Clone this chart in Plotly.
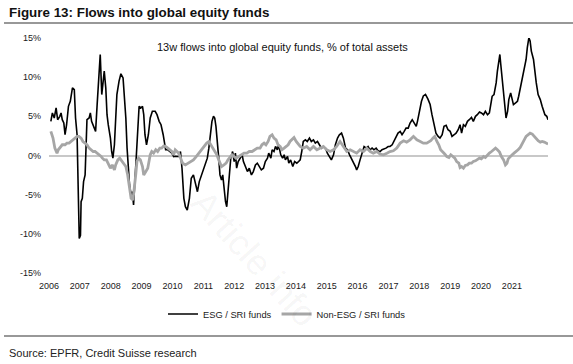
import plotly.graph_objects as go

# ---- data ----
esg_years = [2006.06, 2006.11, 2006.17, 2006.23, 2006.28, 2006.35, 2006.39, 2006.43, 2006.48, 2006.52,
             2006.57, 2006.63, 2006.69, 2006.76, 2006.82, 2006.86, 2006.91, 2006.95, 2006.98, 2007.02,
             2007.04, 2007.08, 2007.12, 2007.17, 2007.21, 2007.23, 2007.30, 2007.34, 2007.38, 2007.43,
             2007.47, 2007.51, 2007.56, 2007.60, 2007.64, 2007.66, 2007.71, 2007.75, 2007.79, 2007.84,
             2007.88, 2007.92, 2007.99, 2008.03, 2008.07, 2008.12, 2008.16, 2008.20, 2008.27, 2008.33,
             2008.40, 2008.44, 2008.49, 2008.53, 2008.57, 2008.61, 2008.66, 2008.70, 2008.74, 2008.79,
             2008.83, 2008.87, 2008.92, 2008.98, 2009.03, 2009.07, 2009.11, 2009.16, 2009.22, 2009.28,
             2009.35, 2009.44, 2009.50, 2009.57, 2009.63, 2009.70, 2009.74, 2009.78, 2009.85, 2009.91,
             2009.98, 2010.04, 2010.09, 2010.20, 2010.26, 2010.31, 2010.37, 2010.42, 2010.48, 2010.55,
             2010.61, 2010.68, 2010.74, 2010.81, 2010.87, 2010.94, 2011.00, 2011.07, 2011.13, 2011.18,
             2011.24, 2011.28, 2011.33, 2011.37, 2011.41, 2011.46, 2011.50, 2011.54, 2011.59, 2011.63,
             2011.67, 2011.72, 2011.76, 2011.80, 2011.85, 2011.89, 2011.95, 2012.00, 2012.04, 2012.08,
             2012.13, 2012.19, 2012.26, 2012.30, 2012.36, 2012.43, 2012.49, 2012.56, 2012.62, 2012.69,
             2012.75, 2012.82, 2012.88, 2012.95, 2013.01, 2013.08, 2013.12, 2013.19, 2013.23, 2013.29,
             2013.34, 2013.40, 2013.44, 2013.51, 2013.57, 2013.62, 2013.66, 2013.73, 2013.77, 2013.83,
             2013.90, 2013.96, 2014.03, 2014.09, 2014.14, 2014.19, 2014.24, 2014.31, 2014.37, 2014.44,
             2014.50, 2014.57, 2014.63, 2014.70, 2014.76, 2014.83, 2014.89, 2014.96, 2015.02, 2015.09,
             2015.15, 2015.22, 2015.28, 2015.35, 2015.41, 2015.48, 2015.54, 2015.61, 2015.67, 2015.74,
             2015.80, 2015.86, 2015.93, 2015.97, 2016.02, 2016.08, 2016.15, 2016.21, 2016.28, 2016.34,
             2016.40, 2016.47, 2016.53, 2016.60, 2016.66, 2016.73, 2016.79, 2016.86, 2016.92, 2016.99,
             2017.05, 2017.12, 2017.18, 2017.25, 2017.31, 2017.38, 2017.44, 2017.51, 2017.57, 2017.64,
             2017.70, 2017.77, 2017.83, 2017.90, 2017.94, 2017.98, 2018.03, 2018.07, 2018.13, 2018.20,
             2018.28, 2018.35, 2018.41, 2018.48, 2018.54, 2018.61, 2018.67, 2018.74, 2018.80, 2018.87,
             2018.93, 2019.00, 2019.06, 2019.13, 2019.19, 2019.26, 2019.32, 2019.37, 2019.43, 2019.49,
             2019.56, 2019.62, 2019.69, 2019.75, 2019.82, 2019.88, 2019.95, 2020.01, 2020.08, 2020.14,
             2020.21, 2020.27, 2020.32, 2020.36, 2020.42, 2020.49, 2020.53, 2020.58, 2020.61, 2020.64,
             2020.68, 2020.73, 2020.77, 2020.81, 2020.86, 2020.90, 2020.96, 2021.01, 2021.05, 2021.12,
             2021.18, 2021.22, 2021.29, 2021.35, 2021.42, 2021.46, 2021.50, 2021.55, 2021.59, 2021.63,
             2021.70, 2021.74, 2021.79, 2021.85, 2021.92, 2021.98, 2022.02, 2022.07, 2022.13, 2022.17]
esg_values = [4.36, 5.43, 4.79, 6.07, 4.57, 5.00, 5.43, 4.57, 4.15, 2.65,
              3.93, 6.28, 6.92, 8.63, 8.42, 4.79, 2.65, -3.76, -10.6, -10.2,
              -5.90, -5.47, -3.33, -2.48, 2.65, 4.57, 4.79, 5.43, 4.36, 3.93,
              3.50, 3.08, 6.50, 9.06, 11.2, 12.9, 7.78, 9.91, 10.77, 8.63,
              5.21, 3.93, 2.22, 0.51, -0.34, 1.37, 5.21, 7.78, 9.49, 10.43,
              9.91, 7.78, 4.79, 0.94, -1.62, -3.76, -5.04, -4.62, -6.32, -2.91,
              0.09, 3.50, 6.28, 6.07, 6.28, 5.21, 2.65, 1.37, 2.65, 4.79,
              5.64, 5.64, 5.21, 4.36, 3.93, 2.65, 1.37, 0.73, 0.73, 0.51,
              0.30, -0.13, -0.09, -0.13, 0.51, -1.62, -5.47, -6.54, -6.97, -5.47,
              -2.91, -2.48, -3.33, -4.62, -3.33, -2.48, -2.05, -1.20, -0.34, 0.94,
              2.65, 4.36, 5.00, 4.79, 3.72, 1.79, -0.34, -2.48, -3.12, -2.48,
              -4.19, -5.90, -6.54, -4.62, -1.62, -0.34, 0.51, -0.77, 0.30, -1.62,
              -0.77, -0.34, 0.09, -0.77, -1.41, -2.05, -1.62, -2.48, -2.05, -1.20,
              -0.98, -1.41, -1.84, -1.62, -0.77, -0.34, 0.30, -0.34, 0.73, 0.51,
              1.15, 0.73, 1.37, 0.09, -0.34, 0.09, -0.56, -0.13, -0.98, -0.56,
              -1.41, -0.77, -0.98, -0.77, -0.56, 0.51, 1.79, 2.00, 1.79, 2.22,
              1.79, 2.00, 1.58, 1.79, 1.37, 0.94, 1.15, 0.94, 0.30, -0.13,
              -0.56, 0.09, 1.37, 2.22, 2.65, 2.86, 2.22, 0.94, 0.73, 0.09,
              -0.34, -0.77, -1.41, -1.84, -1.41, -0.56, 0.30, 1.15, 0.94, 1.15,
              0.73, 0.94, 0.73, 0.94, 0.60, 0.51, 0.73, 0.81, 0.94, 1.15,
              1.15, 1.37, 1.79, 2.44, 2.86, 3.08, 2.65, 3.08, 3.50, 3.50,
              4.15, 4.57, 4.15, 3.72, 4.36, 5.21, 6.07, 6.92, 7.60, 7.80,
              7.20, 6.50, 5.21, 3.93, 2.86, 2.44, 2.22, 2.65, 3.72, 3.85,
              3.29, 3.08, 2.44, 2.65, 2.86, 3.29, 3.93, 2.86, 3.93, 3.72,
              4.36, 4.57, 4.87, 4.36, 5.00, 5.21, 5.56, 5.43, 5.21, 5.64,
              5.21, 5.43, 6.50, 7.56, 7.78, 9.27, 10.77, 12.05, 12.9, 11.62,
              9.91, 7.99, 6.07, 4.79, 5.64, 7.14, 7.99, 7.14, 6.50, 6.71,
              6.92, 7.56, 8.85, 10.34, 11.62, 12.26, 13.76, 15.04, 14.62, 13.33,
              12.26, 10.77, 9.27, 7.78, 7.14, 6.28, 5.85, 5.21, 5.00, 4.57]

non_esg_years = [2006.06, 2006.13, 2006.19, 2006.26, 2006.30, 2006.37, 2006.43, 2006.52, 2006.58, 2006.65,
                 2006.71, 2006.78, 2006.84, 2006.91, 2006.97, 2007.04, 2007.10, 2007.17, 2007.23, 2007.30,
                 2007.36, 2007.43, 2007.49, 2007.56, 2007.62, 2007.69, 2007.73, 2007.79, 2007.86, 2007.92,
                 2007.99, 2008.05, 2008.12, 2008.16, 2008.23, 2008.29, 2008.36, 2008.42, 2008.49, 2008.55,
                 2008.61, 2008.66, 2008.72, 2008.77, 2008.81, 2008.85, 2008.90, 2008.96, 2009.03, 2009.07,
                 2009.13, 2009.20, 2009.24, 2009.28, 2009.33, 2009.39, 2009.46, 2009.52, 2009.59, 2009.65,
                 2009.72, 2009.78, 2009.85, 2009.91, 2009.98, 2010.04, 2010.09, 2010.20, 2010.27, 2010.33,
                 2010.42, 2010.51, 2010.59, 2010.68, 2010.77, 2010.85, 2010.94, 2011.02, 2011.11, 2011.18,
                 2011.24, 2011.31, 2011.37, 2011.44, 2011.50, 2011.59, 2011.67, 2011.74, 2011.80, 2011.87,
                 2011.93, 2012.00, 2012.06, 2012.15, 2012.23, 2012.32, 2012.41, 2012.49, 2012.58, 2012.67,
                 2012.75, 2012.84, 2012.90, 2012.97, 2013.03, 2013.10, 2013.16, 2013.23, 2013.29, 2013.36,
                 2013.42, 2013.49, 2013.55, 2013.62, 2013.68, 2013.75, 2013.81, 2013.88, 2013.94, 2014.01,
                 2014.09, 2014.14, 2014.24, 2014.35, 2014.46, 2014.57, 2014.68, 2014.78, 2014.89, 2015.00,
                 2015.11, 2015.22, 2015.32, 2015.43, 2015.50, 2015.58, 2015.65, 2015.76, 2015.86, 2015.97,
                 2016.08, 2016.19, 2016.30, 2016.41, 2016.51, 2016.62, 2016.73, 2016.84, 2016.95, 2017.05,
                 2017.16, 2017.27, 2017.38, 2017.49, 2017.59, 2017.70, 2017.81, 2017.92, 2018.03, 2018.13,
                 2018.24, 2018.37, 2018.44, 2018.50, 2018.57, 2018.63, 2018.69, 2018.76, 2018.83, 2018.89,
                 2018.96, 2019.02, 2019.08, 2019.15, 2019.21, 2019.28, 2019.32, 2019.37, 2019.43, 2019.49,
                 2019.56, 2019.62, 2019.69, 2019.75, 2019.82, 2019.88, 2019.95, 2020.01, 2020.08, 2020.14,
                 2020.21, 2020.27, 2020.34, 2020.40, 2020.47, 2020.53, 2020.60, 2020.66, 2020.73, 2020.79,
                 2020.84, 2020.88, 2020.94, 2021.01, 2021.07, 2021.14, 2021.20, 2021.27, 2021.33, 2021.40,
                 2021.46, 2021.53, 2021.59, 2021.66, 2021.72, 2021.79, 2021.85, 2021.92, 2021.98, 2022.05,
                 2022.11, 2022.17]
non_esg_values = [3.08, 2.22, 0.94, 0.30, 0.73, 1.15, 1.37, 1.37, 1.58, 1.58,
                  1.79, 2.00, 2.22, 2.44, 2.44, 2.22, 1.79, 1.58, 1.37, 0.94,
                  0.73, 0.51, 0.51, 0.30, 0.09, -0.13, -0.34, -0.56, -0.56, -0.98,
                  -1.62, -1.20, -1.84, -1.20, -0.56, -0.34, -0.77, -0.98, -1.41, -2.48,
                  -4.19, -5.47, -5.68, -4.19, -2.48, -0.77, -0.34, -0.56, -1.41, -2.48,
                  -2.05, -1.62, -0.77, 0.09, 0.51, 0.30, 0.73, 0.51, 0.94, 0.94,
                  1.24, 1.15, 0.94, 0.73, 0.51, 0.09, 0.73, 0.30, -0.34, -0.98,
                  -1.20, -0.98, -0.77, -0.56, -0.13, 0.30, 0.73, 1.15, 1.58, 1.79,
                  1.37, 0.94, 0.51, 0.09, -0.56, -1.41, -1.20, -0.98, -0.56, -0.13,
                  0.09, -0.13, -0.34, -0.13, 0.09, 0.30, 0.30, 0.51, 0.51, 0.73,
                  0.94, 0.94, 1.37, 1.58, 1.37, 1.79, 2.44, 2.65, 2.22, 2.00,
                  1.37, 1.15, 0.73, 0.94, 1.15, 1.37, 1.79, 2.00, 2.30, 1.80,
                  1.37, 1.15, 0.94, 1.15, 0.73, 1.15, 0.73, 0.94, 1.15, 0.73,
                  0.51, 0.73, 1.15, 1.79, 1.37, 0.94, 0.51, 0.73, 0.51, 0.30,
                  0.73, 0.51, 0.94, 0.51, 0.30, 0.51, 0.17, 0.09, 0.30, 0.51,
                  0.60, 0.94, 1.58, 1.88, 1.71, 2.00, 2.44, 2.00, 1.79, 1.58,
                  1.58, 1.88, 2.22, 2.44, 1.79, 1.37, 0.73, 0.51, 0.17, -0.13,
                  -0.26, 0.09, -0.13, -0.34, -0.77, -0.98, -1.54, -1.41, -1.62, -1.28,
                  -1.20, -0.98, -0.98, -0.77, -0.68, -0.56, -0.34, -0.43, -0.13, -0.26,
                  0.09, 0.30, 0.51, 0.73, 0.94, 0.73, 0.43, -0.13, -0.56, -1.20,
                  -0.98, -0.43, -0.13, 0.09, 0.30, 0.51, 0.73, 1.03, 1.58, 2.00,
                  2.44, 2.74, 2.86, 2.74, 2.44, 2.14, 1.88, 1.71, 1.79, 1.71,
                  1.58, 1.45]

year_ticks = list(range(2006, 2022))
year_labels = [str(y) for y in year_ticks]
pct_ticks = [-15, -10, -5, 0, 5, 10, 15]
pct_labels = [f"{v}%" for v in pct_ticks]

FONT = "Liberation Sans, Arial, sans-serif"

fig = go.Figure()
fig.add_trace(go.Scatter(x=esg_years, y=esg_values, mode="lines", name="ESG / SRI funds",
                         line=dict(color="#000000", width=1.6)))
fig.add_trace(go.Scatter(x=non_esg_years, y=non_esg_values, mode="lines", name="Non-ESG / SRI funds",
                         line=dict(color="#a6a6a6", width=2.8)))

W, H = 573, 364
ml, mr, mt, mb = 49, 25, 38, 91
pw, ph = W - ml - mr, H - mt - mb

def px_x(p):
    return (p - ml) / pw

def px_y(p):
    return (H - mb - p) / ph

fig.update_layout(
    width=W, height=H,
    margin=dict(l=ml, r=mr, t=mt, b=mb, autoexpand=False),
    paper_bgcolor="white", plot_bgcolor="white",
    font=dict(family=FONT, color="#1a1a1a"),
    showlegend=True,
    legend=dict(orientation="h", x=px_x(287), xanchor="center", y=px_y(314), yanchor="middle",
                font=dict(size=9.3, color="#1a1a1a"), itemwidth=30, bgcolor="rgba(0,0,0,0)"),
    xaxis=dict(range=[2006.0, 2022.17], tickmode="array", tickvals=year_ticks, ticktext=year_labels,
               showgrid=False, zeroline=False, showline=False, ticks="",
               tickfont=dict(size=9, color="#1a1a1a"), ticklabelstandoff=6),
    yaxis=dict(range=[-15, 15], tickmode="array", tickvals=pct_ticks, ticktext=pct_labels,
               showgrid=False, zeroline=True, zerolinecolor="#c8c8c8", zerolinewidth=1.5,
               showline=False, ticks="", tickfont=dict(size=9, color="#1a1a1a"),
               ticklabelstandoff=7),
)

# title, underline, subtitle, source
fig.add_annotation(text="<b>Figure 13: Flows into global equity funds</b>", xref="paper", yref="paper",
                   x=px_x(7), y=px_y(12), xanchor="left", yanchor="middle", showarrow=False,
                   font=dict(size=13.4, color="#111111", family=FONT))
fig.add_shape(type="line", xref="paper", yref="paper", x0=px_x(4), x1=px_x(573), y0=px_y(23), y1=px_y(23),
              line=dict(color="#333333", width=1.2))
fig.add_annotation(text="13w flows into global equity funds, % of total assets", xref="paper", yref="paper",
                   x=px_x(155), y=px_y(47), xanchor="left", yanchor="middle", showarrow=False,
                   font=dict(size=11, color="#111111", family=FONT))
fig.add_shape(type="line", xref="paper", yref="paper", x0=px_x(4), x1=px_x(573), y0=px_y(336), y1=px_y(336),
              line=dict(color="#333333", width=1.2))
fig.add_annotation(text="Source: EPFR, Credit Suisse research", xref="paper", yref="paper",
                   x=px_x(7), y=px_y(353), xanchor="left", yanchor="middle", showarrow=False,
                   font=dict(size=11, color="#222222", family=FONT))
# faint watermark
fig.add_annotation(text="Article info", xref="paper", yref="paper",
                   x=px_x(255), y=px_y(258), xanchor="center", yanchor="middle", showarrow=False,
                   textangle=48, font=dict(size=36, color="rgba(0,0,0,0.05)", family=FONT))

fig.write_html("out.html", config={"displayModeBar": False},
               post_script="document.body.style.margin='0';document.body.style.padding='0';")
